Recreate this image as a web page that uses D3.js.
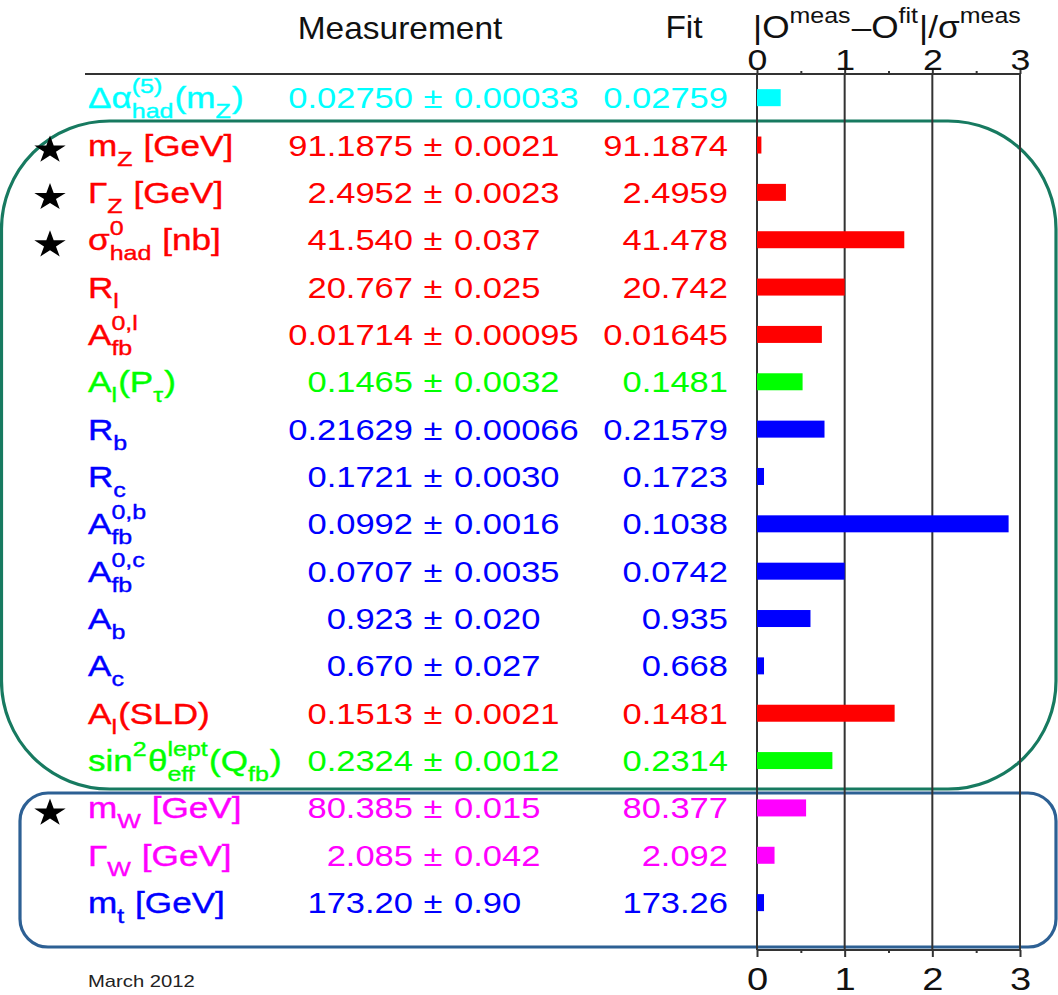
<!DOCTYPE html>
<html><head><meta charset="utf-8">
<script src="https://cdn.jsdelivr.net/npm/d3@7"></script>
<style>
html,body{margin:0;padding:0;background:#fff;}
svg{display:block;font-family:"Liberation Sans",Arial,Helvetica,sans-serif;}
svg text{white-space:pre;}
</style></head><body>
<svg id="chart" width="1058" height="995"></svg>
<script>
// Electroweak precision observables: measurement, global fit result and pull
const labels = [
  "Δα^{(5)}_{had}(m_{Z})", "m_{Z} [GeV]", "Γ_{Z} [GeV]", "σ^{0}_{had} [nb]", "R_{l}",
  "A^{0,l}_{fb}", "A_{l}(P_{τ})", "R_{b}", "R_{c}", "A^{0,b}_{fb}", "A^{0,c}_{fb}",
  "A_{b}", "A_{c}", "A_{l}(SLD)", "sin^{2}θ^{lept}_{eff}(Q_{fb})",
  "m_{W} [GeV]", "Γ_{W} [GeV]", "m_{t} [GeV]"
];
const measValues = ["0.02750","91.1875","2.4952","41.540","20.767","0.01714","0.1465","0.21629","0.1721","0.0992","0.0707","0.923","0.670","0.1513","0.2324","80.385","2.085","173.20"];
const measErrors = ["0.00033","0.0021","0.0023","0.037","0.025","0.00095","0.0032","0.00066","0.0030","0.0016","0.0035","0.020","0.027","0.0021","0.0012","0.015","0.042","0.90"];
const fitValues  = ["0.02759","91.1874","2.4959","41.478","20.742","0.01645","0.1481","0.21579","0.1723","0.1038","0.0742","0.935","0.668","0.1481","0.2314","80.377","2.092","173.26"];
// |O_meas - O_fit| / sigma_meas
const pulls = [0.27,0.05,0.33,1.68,1.00,0.74,0.52,0.77,0.08,2.87,1.00,0.61,0.08,1.57,0.86,0.56,0.20,0.08];
const rowColors = ["#00ffff","#ff0000","#ff0000","#ff0000","#ff0000","#ff0000","#00ff00","#0000ff","#0000ff","#0000ff","#0000ff","#0000ff","#0000ff","#ff0000","#00ff00","#ff00ff","#ff00ff","#0000ff"];
const starred = [false,true,true,true,false,false,false,false,false,false,false,false,false,false,false,true,false,false];
const majorTicks = [0,1,2,3];
const minorTicks = [0.5,1.5,2.5];
const headers = {meas:"Measurement", fit:"Fit", pull:"|O^{meas}–O^{fit}|/σ^{meas}"};
const footnote = "March 2012";

const svg = d3.select("#chart");
const SX = 1.19;          // horizontal stretch of the lettering
const AXIS = "#333";

const x = d3.scaleLinear().domain([0,3]).range([757,1020]);
const y = d3.scaleBand().domain(d3.range(labels.length)).range([74,926.3]);
const bw = y.bandwidth();
const rowMid = i => y(i) + bw/2;
const rowBase = i => rowMid(i) + 10.5;

// parse a tiny ^{..} / _{..} markup into runs
function parseRich(s){
  const out=[]; let i=0, buf='';
  while(i<s.length){
    const c=s[i];
    if((c==='^'||c==='_') && s[i+1]==='{'){
      if(buf){out.push({t:buf}); buf='';}
      const j=s.indexOf('}',i);
      const txt=s.slice(i+2,j);
      const key = c==='^' ? 'sup' : 'sub';
      const last=out[out.length-1];
      if(last && last.script && !last[key]) last[key]=txt;
      else out.push({script:true,[key]:txt});
      i=j+1;
    } else { buf+=c; i++; }
  }
  if(buf) out.push({t:buf});
  return out;
}
function drawRich(g, s, size, small, subDy, supDy, fill, weight){
  let cx=0;
  const put=(txt,yy,fs)=>g.append("text").attr("x",cx).attr("y",yy).attr("font-size",fs)
    .attr("fill",fill).attr("stroke",weight?fill:null).attr("stroke-width",weight||null).text(txt);
  parseRich(s).forEach(tok=>{
    if(!tok.script){
      cx+=put(tok.t,0,size).node().getComputedTextLength();
    } else {
      let w=0;
      if(tok.sup) w=Math.max(w,put(tok.sup,supDy,small).node().getComputedTextLength());
      if(tok.sub) w=Math.max(w,put(tok.sub,subDy,small).node().getComputedTextLength());
      cx+=w+1;
    }
  });
}

// grouping boxes
svg.append("rect").attr("x",1.5).attr("y",121).attr("width",1054.5).attr("height",668)
  .attr("rx",108).attr("ry",108).attr("fill","none").attr("stroke","#177a60").attr("stroke-width",3.2);
svg.append("rect").attr("x",20).attr("y",793).attr("width",1036).attr("height",154)
  .attr("rx",28).attr("ry",28).attr("fill","none").attr("stroke","#2d6094").attr("stroke-width",3.2);

// header rule and bottom axis line
svg.append("line").attr("x1",85).attr("x2",x(3)).attr("y1",74).attr("y2",74)
  .attr("stroke",AXIS).attr("stroke-width",2);
svg.append("line").attr("x1",x(0)).attr("x2",x(3)).attr("y1",950).attr("y2",950)
  .attr("stroke",AXIS).attr("stroke-width",2);

// vertical grid lines at integer pulls
svg.append("g").selectAll("line").data(majorTicks).join("line")
  .attr("x1",d=>x(d)).attr("x2",d=>x(d)).attr("y1",74).attr("y2",950)
  .attr("stroke",AXIS).attr("stroke-width",2);

// axes
function styleAxis(g){
  g.select(".domain").remove();
  g.selectAll(".tick line").attr("stroke",AXIS).attr("stroke-width",2);
}
const topAxis = svg.append("g").attr("transform","translate(0,74)")
  .call(d3.axisTop(x).tickValues(majorTicks).tickSize(6).tickFormat(d3.format("d")));
styleAxis(topAxis);
topAxis.selectAll(".tick text").attr("y",-4).attr("dy",0).attr("font-size",30)
  .attr("font-family","Liberation Sans, Arial, sans-serif").attr("fill","#111").attr("transform",`scale(${SX},1)`);
const topMinor = svg.append("g").attr("transform","translate(0,74)")
  .call(d3.axisTop(x).tickValues(minorTicks).tickSize(3).tickFormat(""));
styleAxis(topMinor);

const botAxis = svg.append("g").attr("transform","translate(0,950)")
  .call(d3.axisBottom(x).tickValues(majorTicks).tickSize(7).tickFormat(d3.format("d")));
styleAxis(botAxis);
botAxis.selectAll(".tick text").attr("y",40).attr("dy",0).attr("font-size",32)
  .attr("font-family","Liberation Sans, Arial, sans-serif").attr("fill","#111").attr("transform",`scale(${SX},1)`);
const botMinor = svg.append("g").attr("transform","translate(0,950)")
  .call(d3.axisBottom(x).tickValues(minorTicks).tickSize(3).tickFormat(""));
styleAxis(botMinor);

// pull bars
svg.append("g").selectAll("rect").data(pulls).join("rect")
  .attr("x",x(0)).attr("width",d=>x(d)-x(0))
  .attr("y",(d,i)=>rowMid(i)-8.5).attr("height",17)
  .attr("fill",(d,i)=>rowColors[i]);

// column headers
svg.append("text").attr("transform",`translate(400,39) scale(1.08,1)`).attr("text-anchor","middle")
  .attr("font-size",31).attr("fill","#111").text(headers.meas);
svg.append("text").attr("transform",`translate(684,38) scale(1.08,1)`).attr("text-anchor","middle")
  .attr("font-size",31).attr("fill","#111").text(headers.fit);
drawRich(svg.append("g").attr("transform","translate(753,38) scale(1.135,1)"), headers.pull, 31, 22, 0, -15, "#111");

// rows of text
labels.forEach((lab,i)=>{
  const c=rowColors[i], b=rowBase(i);
  drawRich(svg.append("g").attr("transform",`translate(88,${b}) scale(${SX},1)`), lab, 29.5, 21, 10, -15, c, 0.4);
  svg.append("text").attr("transform",`translate(413,${b}) scale(${SX},1)`).attr("text-anchor","end")
    .attr("font-size",29).attr("fill",c).text(measValues[i]);
  svg.append("text").attr("transform",`translate(433,${b}) scale(${SX},1)`).attr("text-anchor","middle")
    .attr("font-size",29).attr("fill",c).text("±");
  svg.append("text").attr("transform",`translate(454,${b}) scale(${SX},1)`).attr("text-anchor","start")
    .attr("font-size",29).attr("fill",c).text(measErrors[i]);
  svg.append("text").attr("transform",`translate(728,${b}) scale(${SX},1)`).attr("text-anchor","end")
    .attr("font-size",29).attr("fill",c).text(fitValues[i]);
});

// stars marking inputs
const star = d3.symbol(d3.symbolStar, 235);
svg.append("g").selectAll("path").data(d3.range(labels.length).filter(i=>starred[i])).join("path")
  .attr("transform",i=>`translate(50,${rowMid(i)+5}) scale(1.14,1)`)
  .attr("d",star).attr("fill","#000");

svg.append("text").attr("transform",`translate(88,987) scale(${SX},1)`)
  .attr("font-size",17).attr("fill","#222").text(footnote);
</script>
</body></html>
